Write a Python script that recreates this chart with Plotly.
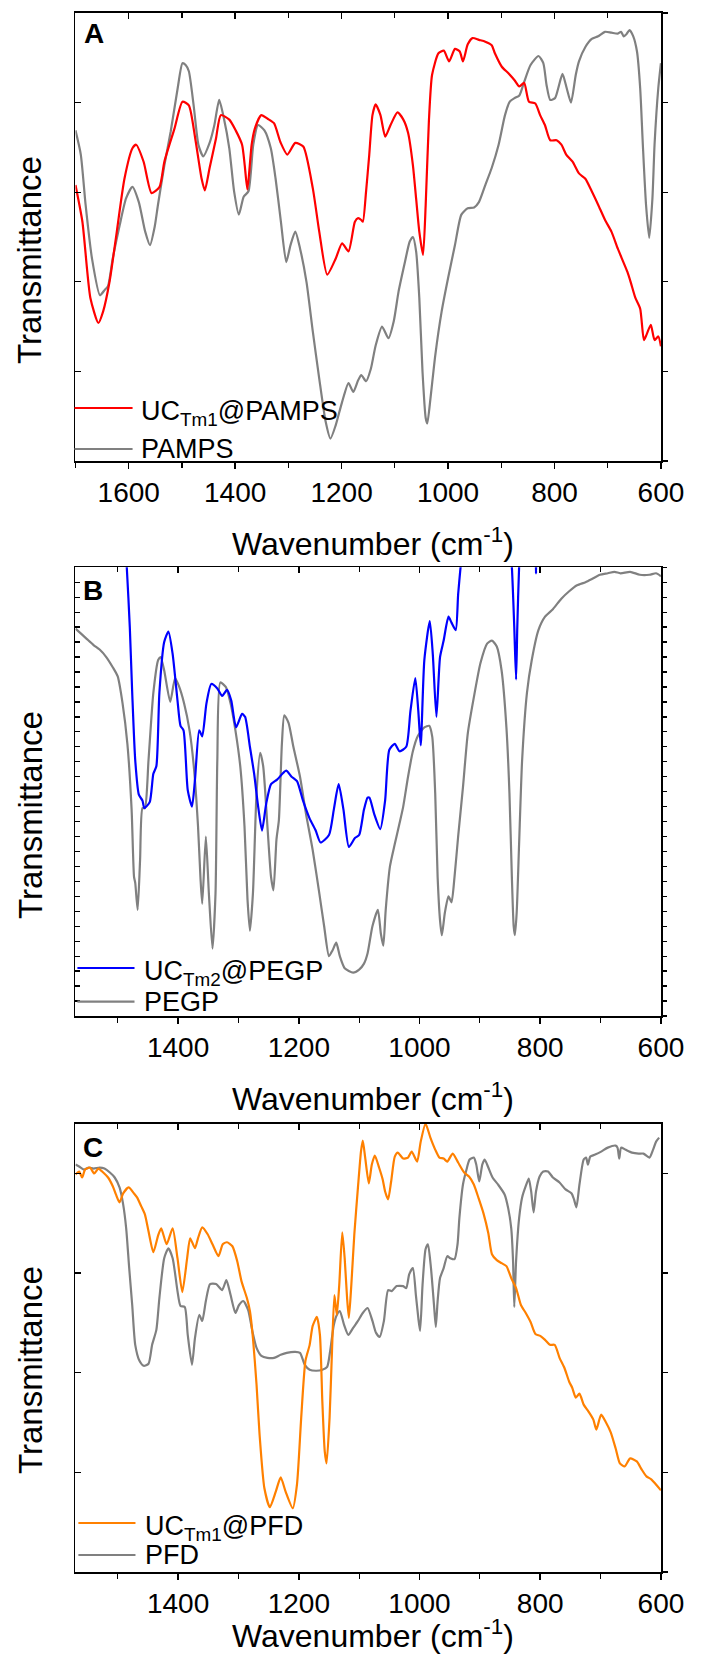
import plotly.graph_objects as go

# ---------------- Panel A (UC_Tm1@PAMPS vs PAMPS) ----------------
a_uc_wn = [1700, 1687, 1672, 1657, 1648, 1636, 1624, 1608, 1593, 1586, 1572, 1557, 1542, 1533, 1514, 1499,
           1487, 1475, 1463, 1457, 1448, 1436, 1427, 1411, 1399, 1387, 1382, 1377, 1369, 1363, 1351, 1339,
           1327, 1315, 1302, 1287, 1272, 1254, 1242, 1227, 1211, 1199, 1187, 1175, 1169, 1163, 1160, 1154,
           1148, 1142, 1136, 1127, 1118, 1108, 1095, 1084, 1075, 1066, 1060, 1054, 1047, 1042, 1036, 1030,
           1018, 1008, 998, 987, 978, 972, 963, 954, 942, 930, 918, 912, 899, 887, 875, 866, 857, 848, 836,
           827, 818, 808, 796, 787, 778, 766, 754, 742, 730, 718, 705, 693, 681, 672, 663, 657, 648, 639,
           632, 627, 619, 612, 605, 600]
a_uc_t = [3.08, 2.67, 1.82, 1.54, 1.67, 2.00, 2.49, 3.15, 3.49, 3.53, 3.34, 2.99, 3.06, 3.34, 3.71, 4.01,
          3.97, 3.60, 3.15, 3.02, 3.27, 3.60, 3.86, 3.81, 3.69, 3.53, 3.30, 3.03, 3.53, 3.71, 3.86, 3.82,
          3.77, 3.56, 3.42, 3.55, 3.51, 3.04, 2.56, 2.08, 2.26, 2.43, 2.34, 2.67, 2.71, 2.69, 2.67, 3.01,
          3.42, 3.86, 3.98, 3.86, 3.62, 3.75, 3.89, 3.81, 3.66, 3.30, 2.93, 2.56, 2.30, 2.86, 3.79, 4.31,
          4.55, 4.58, 4.46, 4.60, 4.57, 4.46, 4.65, 4.72, 4.70, 4.68, 4.64, 4.55, 4.40, 4.33, 4.25, 4.18,
          4.22, 4.01, 3.99, 3.86, 3.75, 3.58, 3.58, 3.53, 3.42, 3.34, 3.21, 3.15, 3.01, 2.86, 2.69, 2.56,
          2.37, 2.24, 2.11, 2.00, 1.82, 1.70, 1.35, 1.41, 1.52, 1.35, 1.39, 1.28]

a_ref_wn = [1700, 1690, 1681, 1669, 1654, 1645, 1639, 1630, 1617, 1605, 1593, 1581, 1569, 1560, 1551, 1545,
            1533, 1521, 1508, 1499, 1493, 1487, 1478, 1469, 1460, 1448, 1439, 1430, 1421, 1411, 1402, 1393,
            1384, 1375, 1366, 1357, 1345, 1333, 1324, 1314, 1304, 1296, 1287, 1278, 1266, 1254, 1242, 1230,
            1221, 1211, 1199, 1187, 1178, 1169, 1163, 1154, 1145, 1136, 1124, 1112, 1102, 1093, 1081, 1072,
            1066, 1060, 1054, 1048, 1042, 1039, 1033, 1024, 1012, 1000, 987, 975, 963, 951, 942, 930, 918,
            905, 893, 884, 875, 866, 857, 845, 830, 821, 815, 808, 799, 793, 785, 777, 769, 760, 754, 742,
            730, 718, 705, 693, 681, 675, 670, 664, 659, 652, 645, 639, 634, 628, 622, 616, 612, 605, 600]
a_ref_t = [3.69, 3.42, 2.86, 2.26, 1.85, 1.91, 1.95, 2.26, 2.63, 2.93, 3.06, 2.89, 2.56, 2.41, 2.62, 2.86,
           3.30, 3.68, 4.16, 4.44, 4.42, 4.35, 3.97, 3.53, 3.40, 3.55, 3.75, 4.03, 3.82, 3.49, 3.01, 2.75,
           2.95, 3.01, 3.53, 3.75, 3.69, 3.49, 3.15, 2.67, 2.22, 2.41, 2.56, 2.37, 2.00, 1.44, 0.92, 0.44,
           0.25, 0.40, 0.66, 0.87, 0.77, 0.90, 0.96, 0.89, 1.03, 1.29, 1.50, 1.37, 1.56, 1.89, 2.22, 2.45,
           2.50, 2.34, 1.82, 1.00, 0.48, 0.42, 0.70, 1.18, 1.67, 2.04, 2.41, 2.75, 2.82, 2.83, 2.89, 3.08,
           3.27, 3.53, 3.86, 4.01, 4.05, 4.08, 4.23, 4.42, 4.52, 4.44, 4.20, 4.03, 4.05, 4.16, 4.32, 4.16,
           4.00, 4.31, 4.46, 4.62, 4.71, 4.74, 4.79, 4.78, 4.77, 4.79, 4.74, 4.77, 4.81, 4.74, 4.57, 4.16,
           3.53, 2.86, 2.49, 2.93, 3.53, 4.16, 4.44]

# ---------------- Panel B (UC_Tm2@PEGP vs PEGP) ----------------
b_uc_wn = [1492, 1488, 1485, 1480, 1476, 1471, 1465, 1459, 1456, 1447, 1441, 1436, 1431, 1423, 1416, 1409,
           1401, 1396, 1391, 1384, 1377, 1372, 1365, 1360, 1353, 1345, 1335, 1327, 1319, 1312, 1304, 1294,
           1289, 1281, 1274, 1268, 1261, 1254, 1246, 1236, 1221, 1212, 1203, 1193, 1182, 1172, 1164, 1150,
           1142, 1134, 1126, 1117, 1107, 1100, 1092, 1086, 1083, 1075, 1065, 1057, 1050, 1041, 1033, 1022,
           1015, 1007, 1002, 998, 992, 983, 978, 972, 966, 960, 952, 947, 940, 936, 932, 928, 900, 870, 851,
           847, 843, 840, 838, 835, 832, 820, 808, 807, 806, 800]
b_uc_t = [34.0, 31.8, 30.0, 26.0, 21.6, 17.1, 14.8, 14.4, 13.9, 14.3, 16.2, 16.7, 21.6, 25.0, 25.7, 24.2,
          21.1, 19.4, 19.1, 15.1, 14.0, 15.8, 19.1, 18.7, 20.9, 22.2, 21.9, 21.4, 21.8, 21.1, 19.3, 20.2,
          20.0, 18.0, 16.2, 14.2, 12.4, 14.2, 15.5, 15.8, 16.4, 16.0, 15.7, 14.4, 13.2, 12.4, 11.6, 12.1,
          13.8, 15.5, 13.8, 11.3, 11.9, 12.1, 13.8, 14.6, 14.6, 13.5, 12.5, 14.4, 17.8, 18.2, 17.7, 18.0,
          20.4, 22.6, 20.4, 18.1, 23.8, 26.4, 24.2, 20.0, 24.0, 25.1, 26.7, 26.3, 25.8, 28.2, 30.0, 31.8,
          34.0, 34.0, 31.8, 30.0, 26.0, 22.5, 26.0, 30.0, 31.8, 34.0, 31.8, 29.6, 31.8, 33.0]

b_ref_wn = [1570, 1559, 1551, 1540, 1530, 1519, 1508, 1500, 1492, 1484, 1477, 1473, 1471, 1467, 1463, 1459,
            1455, 1449, 1441, 1433, 1429, 1423, 1413, 1405, 1399, 1390, 1381, 1374, 1367, 1363, 1360, 1354,
            1349, 1343, 1338, 1335, 1330, 1321, 1313, 1305, 1297, 1290, 1285, 1281, 1276, 1270, 1264, 1259,
            1252, 1246, 1242, 1237, 1233, 1228, 1224, 1217, 1209, 1198, 1188, 1177, 1166, 1158, 1150, 1144,
            1138, 1132, 1124, 1110, 1100, 1092, 1086, 1078, 1069, 1064, 1060, 1056, 1049, 1041, 1033, 1027,
            1019, 1011, 1003, 992, 984, 979, 974, 970, 966, 963, 958, 952, 947, 942, 936, 928, 920, 910, 899,
            888, 880, 872, 864, 856, 851, 847, 844, 842, 839, 835, 830, 822, 814, 803, 792, 779, 765, 752,
            739, 725, 715, 701, 688, 677, 667, 651, 635, 619, 608, 600]
b_ref_t = [25.9, 25.5, 25.2, 24.8, 24.5, 24.0, 23.3, 22.7, 20.9, 18.2, 13.8, 9.3, 8.9, 7.1, 10.4, 13.9,
           13.9, 17.1, 21.6, 23.8, 24.0, 23.1, 21.0, 22.6, 22.1, 20.9, 19.1, 16.7, 12.7, 9.3, 7.5, 12.0,
           8.2, 4.5, 8.2, 17.1, 22.3, 22.0, 20.9, 19.1, 16.7, 12.7, 7.8, 5.7, 8.2, 14.9, 17.6, 16.7,
           12.7, 9.3, 8.4, 11.8, 13.1, 18.2, 20.1, 19.6, 18.0, 16.0, 13.5, 11.1, 8.2, 6.0, 4.0, 4.4,
           4.9, 4.0, 3.2, 2.9, 3.1, 3.5, 4.2, 6.0, 7.1, 5.5, 4.7, 7.1, 10.0, 11.5, 12.9, 14.0,
           16.0, 17.7, 18.7, 19.3, 19.4, 18.7, 14.9, 9.3, 6.4, 5.4, 6.9, 8.0, 7.6, 9.3, 12.0, 15.3, 18.9, 21.3,
           23.6, 24.9, 25.1, 24.7, 23.1, 19.3, 14.9, 9.3, 6.0, 5.4, 6.9, 11.5, 17.1, 21.6, 23.8, 25.8, 26.7,
           27.2, 27.9, 28.4, 28.8, 29.0, 29.2, 29.5, 29.6, 29.7, 29.6, 29.7, 29.5, 29.5, 29.6, 29.4]

# ---------------- Panel C (UC_Tm1@PFD vs PFD) ----------------
c_uc_wn = [1570, 1564, 1559, 1554, 1546, 1539, 1532, 1524, 1516, 1508, 1503, 1497, 1491, 1482, 1473, 1468,
           1461, 1455, 1449, 1441, 1433, 1428, 1419, 1409, 1401, 1393, 1385, 1380, 1372, 1367, 1360, 1351,
           1343, 1333, 1326, 1319, 1310, 1302, 1295, 1286, 1281, 1276, 1270, 1265, 1257, 1248, 1238, 1230,
           1222, 1210, 1203, 1196, 1189, 1182, 1177, 1170, 1165, 1161, 1157, 1154, 1149, 1145, 1141, 1137,
           1133, 1128, 1124, 1120, 1117, 1113, 1108, 1102, 1097, 1094, 1090, 1084, 1079, 1074, 1067, 1061,
           1057, 1052, 1047, 1041, 1036, 1027, 1019, 1013, 1004, 998, 990, 982, 974, 967, 960, 954, 945, 936,
           926, 918, 910, 902, 894, 886, 880, 872, 864, 856, 848, 840, 832, 824, 816, 808, 800, 792, 784, 776,
           768, 760, 752, 747, 741, 735, 728, 720, 712, 707, 699, 691, 683, 675, 668, 660, 651, 640, 632, 624,
           616, 600]
c_uc_t = [3.99, 4.02, 3.96, 4.04, 4.06, 4.00, 4.05, 4.01, 3.96, 3.87, 3.79, 3.71, 3.80, 3.86, 3.80, 3.76,
          3.67, 3.59, 3.42, 3.21, 3.38, 3.45, 3.29, 3.45, 3.15, 2.81, 3.15, 3.35, 3.25, 3.35, 3.46, 3.39,
          3.29, 3.17, 3.29, 3.31, 3.27, 3.12, 2.92, 2.75, 2.62, 2.35, 1.88, 1.38, 0.84, 0.65, 0.81, 0.95,
          0.81, 0.64, 0.88, 1.55, 2.12, 2.28, 2.47, 2.56, 2.38, 1.71, 1.21, 1.09, 1.55, 2.22, 2.78, 2.58,
          2.88, 3.41, 3.15, 2.75, 2.55, 2.88, 3.39, 3.86, 4.22, 4.33, 4.16, 3.90, 4.09, 4.18, 4.06, 3.94,
          3.82, 3.74, 3.92, 4.17, 4.21, 4.15, 4.16, 4.22, 4.12, 4.32, 4.50, 4.36, 4.24, 4.16, 4.15, 4.12, 4.20, 4.11,
          4.01, 3.97, 3.89, 3.75, 3.60, 3.40, 3.19, 3.13, 3.10, 3.07, 2.95, 2.85, 2.68, 2.60, 2.51, 2.39, 2.37, 2.33, 2.28, 2.28,
          2.15, 2.05, 1.91, 1.85, 1.75, 1.79, 1.68, 1.61, 1.53, 1.43, 1.58, 1.50, 1.40, 1.24, 1.09, 1.06, 1.14, 1.11, 1.03, 0.96,
          0.93, 0.82]

c_ref_wn = [1570, 1564, 1556, 1548, 1540, 1530, 1522, 1513, 1505, 1497, 1491, 1486, 1481, 1476, 1471, 1464,
            1457, 1449, 1443, 1436, 1431, 1423, 1416, 1409, 1401, 1396, 1389, 1384, 1377, 1372, 1365, 1360,
            1354, 1347, 1337, 1327, 1320, 1313, 1305, 1299, 1292, 1284, 1277, 1270, 1262, 1252, 1241, 1230,
            1220, 1206, 1198, 1190, 1182, 1171, 1161, 1153, 1148, 1142, 1137, 1132, 1125, 1118, 1110, 1102,
            1094, 1086, 1078, 1072, 1066, 1059, 1052, 1046, 1038, 1027, 1022, 1017, 1011, 1006, 1002, 999,
            995, 990, 986, 981, 976, 973, 970, 966, 960, 954, 949, 942, 937, 934, 928, 923, 917, 910, 906,
            901, 896, 892, 886, 879, 870, 859, 853, 848, 845, 843, 840, 835, 830, 823, 819, 815, 811, 807,
            801, 795, 787, 779, 768, 758, 748, 744, 740, 735, 728, 724, 721, 717, 709, 699, 688, 675, 672,
            669, 666, 659, 648, 637, 629, 619, 613, 608, 603]
c_ref_t = [4.09, 4.07, 4.04, 4.06, 4.05, 4.06, 4.05, 4.01, 3.96, 3.86, 3.69, 3.45, 3.05, 2.68, 2.28, 2.12,
           2.07, 2.09, 2.28, 2.43, 2.75, 3.15, 3.25, 3.15, 2.82, 2.67, 2.66, 2.38, 2.08, 2.35, 2.58, 2.52,
           2.72, 2.89, 2.89, 2.83, 2.93, 2.78, 2.60, 2.68, 2.72, 2.63, 2.42, 2.25, 2.17, 2.15, 2.15, 2.18,
           2.20, 2.21, 2.20, 2.08, 2.03, 2.02, 2.03, 2.06, 2.22, 2.48, 2.58, 2.62, 2.48, 2.38, 2.45, 2.52,
           2.60, 2.65, 2.52, 2.40, 2.36, 2.52, 2.83, 2.82, 2.87, 2.87, 2.85, 2.99, 3.05, 2.78, 2.55, 2.42,
           2.88, 3.24, 3.29, 3.05, 2.68, 2.46, 2.72, 2.95, 3.05, 3.17, 3.15, 3.14, 3.29, 3.55, 3.89, 4.02, 4.14, 4.16, 4.09,
           3.92, 4.09, 4.14, 4.06, 3.96, 3.89, 3.79, 3.65, 3.45, 3.12, 2.66, 3.12, 3.55, 3.76, 3.89, 3.95, 3.82, 3.61, 3.82,
           3.97, 4.02, 4.02, 3.96, 3.91, 3.84, 3.80, 3.74, 3.66, 3.89, 4.14, 4.16, 4.09, 4.17, 4.19, 4.22, 4.26, 4.28, 4.26,
           4.15, 4.26, 4.24, 4.21, 4.20, 4.20, 4.16, 4.24, 4.32, 4.36]

x_ticks = [600, 800, 1000, 1200, 1400, 1600]
FONT = "Liberation Sans, Arial, Helvetica, sans-serif"
W, H = 712, 1660

RED, GRAY, BLUE, ORANGE = "#FF0000", "#808080", "#0000FF", "#FF8000"

fig = go.Figure()

def add(wn, t, color, name, ax):
    fig.add_trace(go.Scatter(x=wn, y=t, mode="lines", name=name, showlegend=False,
                             line=dict(color=color, width=2.2, shape="spline", smoothing=0.6),
                             xaxis="x" + ax, yaxis="y" + ax, hoverinfo="skip"))

add(a_ref_wn, a_ref_t, GRAY, "PAMPS", "")
add(a_uc_wn, a_uc_t, RED, "UCTm1@PAMPS", "")
add(b_ref_wn, b_ref_t, GRAY, "PEGP", "2")
add(b_uc_wn, b_uc_t, BLUE, "UCTm2@PEGP", "2")
add(c_ref_wn, c_ref_t, GRAY, "PFD", "3")
add(c_uc_wn, c_uc_t, ORANGE, "UCTm1@PFD", "3")

def py(px):
    return 1 - px / H

def px_(x):
    return x / W

xdom = [px_(78), px_(683)]
ydoms = {"": [py(461), py(13)], "2": [py(1016), py(567.3)], "3": [py(1572), py(1123.7)]}
xranges = {"": [1700, 600], "2": [1570, 600], "3": [1570, 600]}
yranges = {"": [0, 5], "2": [0, 30], "3": [0, 4.5]}
# overlay axes used only for the top / right tick marks
top_ax = {"": "4", "2": "5", "3": "6"}
right_ax = {"": "4", "2": "5", "3": "6"}

layout = dict(width=W, height=H, autosize=False, margin=dict(l=0, r=0, t=0, b=0, pad=0),
              plot_bgcolor="white", paper_bgcolor="white", font=dict(family=FONT, color="black"))

for ax in ["", "2", "3"]:
    ylen = 5 if ax == "2" else 6
    layout["xaxis" + ax] = dict(
        domain=xdom, range=xranges[ax], anchor="y" + ax, tickvals=x_ticks,
        ticks="outside", ticklen=6, tickwidth=1.5, tickcolor="black",
        showline=True, linecolor="black", linewidth=1.6, mirror=True,
        showgrid=False, zeroline=False, tickfont=dict(size=28, family=FONT),
        minor=dict(dtick=100, tick0=600, ticks="outside", ticklen=5, tickwidth=1.2, tickcolor="black", showgrid=False),
    )
    layout["yaxis" + ax] = dict(
        domain=ydoms[ax], range=yranges[ax], anchor="x" + ax, dtick=1, tick0=0,
        ticks="inside", ticklen=ylen, tickwidth=1.3, tickcolor="black",
        showticklabels=False, showline=True, linecolor="black", linewidth=1.6, mirror=True,
        showgrid=False, zeroline=False,
    )
    t = top_ax[ax]
    layout["xaxis" + t] = dict(
        domain=xdom, range=xranges[ax], anchor="y" + ax, overlaying="x" + ax, side="top",
        tickvals=x_ticks, ticks="inside", ticklen=6, tickwidth=1.5, tickcolor="black",
        showticklabels=False, showline=False, showgrid=False, zeroline=False,
        minor=dict(dtick=100, tick0=600, ticks="inside", ticklen=5, tickwidth=1.2, tickcolor="black", showgrid=False),
    )
    r = right_ax[ax]
    layout["yaxis" + r] = dict(
        domain=ydoms[ax], range=yranges[ax], anchor="x" + ax, overlaying="y" + ax, side="right",
        dtick=1, tick0=0, ticks="outside", ticklen=ylen, tickwidth=1.3, tickcolor="black",
        showticklabels=False, showline=False, showgrid=False, zeroline=False,
    )

fig.update_layout(**layout)

# invisible carriers so the overlay tick axes are drawn
for ax in ["", "2", "3"]:
    fig.add_trace(go.Scatter(x=[xranges[ax][0]], y=[yranges[ax][0]], mode="markers", showlegend=False,
                             marker=dict(opacity=0, size=1), hoverinfo="skip",
                             xaxis="x" + top_ax[ax], yaxis="y" + right_ax[ax]))

ann = []
# axis titles
for yc in [542, 1097, 1634]:
    ann.append(dict(text="Wavenumber (cm<sup>-1</sup>)", x=px_(385), y=py(yc), xref="paper", yref="paper",
                    showarrow=False, xanchor="center", yanchor="middle", font=dict(size=32, family=FONT)))
for yc in [260, 815, 1370]:
    ann.append(dict(text="Transmittance", x=px_(31), y=py(yc), xref="paper", yref="paper", textangle=-90,
                    showarrow=False, xanchor="center", yanchor="middle", font=dict(size=33, family=FONT)))
# panel letters
for lab, (xc, yc) in zip(["A", "B", "C"], [(97, 34), (96, 591), (96.5, 1147.5)]):
    ann.append(dict(text="<b>%s</b>" % lab, x=px_(xc), y=py(yc), xref="paper", yref="paper",
                    showarrow=False, xanchor="center", yanchor="middle", font=dict(size=28, family=FONT)))

# legends (line samples + labels)
legend_items = [
    ("UC<sub>Tm1</sub>@PAMPS", RED, 77, 137, 408, 144),
    ("PAMPS", GRAY, 77, 137, 449, 144),
    ("UC<sub>Tm2</sub>@PEGP", BLUE, 80, 139, 968, 147),
    ("PEGP", GRAY, 80, 139, 1001.7, 147),
    ("UC<sub>Tm1</sub>@PFD", ORANGE, 81, 140, 1523, 147.7),
    ("PFD", GRAY, 81, 140, 1555, 147.7),
]
shapes = []
for text, col, x0, x1, yc, tx in legend_items:
    shapes.append(dict(type="line", xref="paper", yref="paper", x0=px_(x0), x1=px_(x1), y0=py(yc), y1=py(yc),
                       line=dict(color=col, width=2.2)))
    has_sub = "<sub>" in text
    ann.append(dict(text=text, x=px_(tx), y=py(yc + (5 if has_sub else 0)), xref="paper", yref="paper",
                    showarrow=False, xanchor="left", yanchor="middle", font=dict(size=27, family=FONT)))

fig.update_layout(annotations=ann, shapes=shapes)
fig.write_html("out.html",
               config={"displayModeBar": False, "staticPlot": True, "responsive": False},
               post_script="document.body.style.margin='0';document.documentElement.style.overflow='hidden';")
